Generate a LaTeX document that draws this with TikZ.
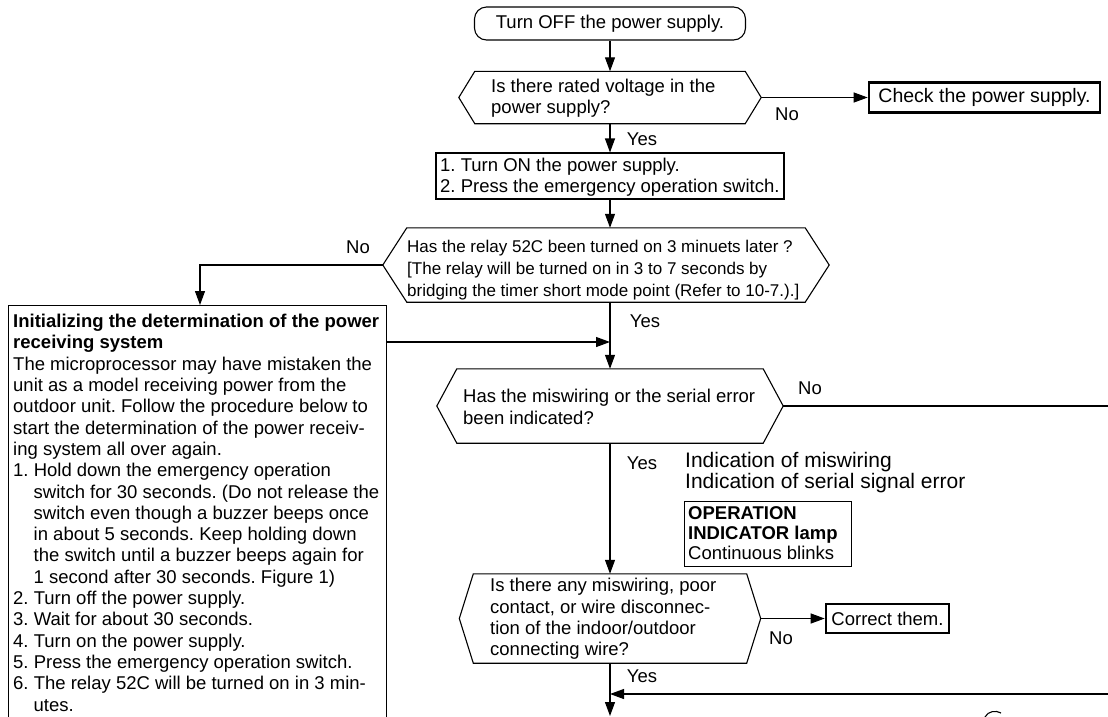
\documentclass[tikz,border=0pt]{standalone}
\usepackage{fontspec}
\setmainfont{Liberation Sans}
\usetikzlibrary{arrows.meta,calc}
\frenchspacing
\newcommand\hexo[2]{\draw[line] (#1.west) -- ([xshift=#2]#1.north west) -- ([xshift=-#2]#1.north east) -- (#1.east) -- ([xshift=-#2]#1.south east) -- ([xshift=#2]#1.south west) -- cycle;}
\newcommand\ind{\hspace*{20.5pt}}
\begin{document}
\begin{tikzpicture}[x=1pt,y=-1pt,
  every node/.style={font=\fontsize{18.5}{21.3}\selectfont, inner sep=0pt},
  line/.style={line width=1.1pt},
  arr/.style={line, -{Triangle[length=14pt,width=10pt]}},
  box/.style={draw, line width=1.1pt},
  thickbox/.style={draw, line width=2.6pt},
  hexframe/.style={draw=none},
  txt/.style={align=left, anchor=west}
]
\useasboundingbox (0,0) rectangle (1108,716);
\clip (0,0) rectangle (1108,716);

% start
\node[box, rounded corners=12pt, minimum width=271pt, minimum height=33pt] (start) at (610,23.5) {Turn OFF the power supply.};

% decision 1
\node[hexframe, minimum width=302pt, minimum height=52pt] (h1) at (610,97.5) {};
\hexo{h1}{16pt}
\node[txt] (h1t) at (491,98) {Is there rated voltage in the\\power supply?};
\node[thickbox, minimum width=231pt, minimum height=30pt, font=\fontsize{19.5}{21}\selectfont] (chk) at (984.5,97.5) {Check the power supply.};
\node (no1) at (787,114) {No};
\node (yes1) at (642,139) {Yes};

% box 2
\node[box, minimum width=348pt, minimum height=46pt] (b2) at (610,176) {};
\node[txt] (b2t) at (440,177) {1. Turn ON the power supply.\\2. Press the emergency operation switch.};

% decision 2
\node[hexframe, minimum width=446pt, minimum height=74pt] (h2) at (606,265) {};
\hexo{h2}{24pt}
\node[txt, font=\fontsize{17}{22}\selectfont] (h2t) at (407,270) {Has the relay 52C been turned on 3 minuets later ?\\{[}The relay will be turned on in 3 to 7 seconds by\\bridging the timer short mode point (Refer to 10-7.).]};
\node (no2) at (358,247) {No};
\node (yes2) at (645,321) {Yes};

% box 3
\node[box, anchor=north west, minimum width=378pt, minimum height=440pt] (b3) at (8,305) {};
\node[align=left, anchor=north west] (b3t) at (13,314) {%
\textbf{Initializing the determination of the power}\\
\textbf{receiving system}\\
The microprocessor may have mistaken the\\
unit as a model receiving power from the\\
outdoor unit. Follow the procedure below to\\
start the determination of the power receiv-\\
ing system all over again.\\
1. Hold down the emergency operation\\
\ind switch for 30 seconds. (Do not release the\\
\ind switch even though a buzzer beeps once\\
\ind in about 5 seconds. Keep holding down\\
\ind the switch until a buzzer beeps again for\\
\ind 1 second after 30 seconds. Figure 1)\\
2. Turn off the power supply.\\
3. Wait for about 30 seconds.\\
4. Turn on the power supply.\\
5. Press the emergency operation switch.\\
6. The relay 52C will be turned on in 3 min-\\
\ind utes.};

% decision 3
\node[hexframe, minimum width=346pt, minimum height=74pt] (h3) at (610,406) {};
\hexo{h3}{20pt}
\node[txt] (h3t) at (463,407) {Has the miswiring or the serial error\\been indicated?};
\node (no3) at (810,388) {No};
\node (yes3) at (642,463) {Yes};
\node[txt, font=\fontsize{21}{21}\selectfont] (ind) at (685,473) {Indication of miswiring\\Indication of serial signal error};
\node[box, anchor=north west, minimum width=167pt, minimum height=65pt] (op) at (684,501) {};
\node[txt, font=\fontsize{18.5}{20}\selectfont] (opt) at (688,533.5) {\textbf{OPERATION}\\\textbf{INDICATOR lamp}\\Continuous blinks};

% decision 4
\node[hexframe, minimum width=301pt, minimum height=89pt] (h4) at (610,618.5) {};
\hexo{h4}{14pt}
\node[txt] (h4t) at (490,619) {Is there any miswiring, poor\\contact, or wire disconnec-\\tion of the indoor/outdoor\\connecting wire?};
\node[thickbox, minimum width=123pt, minimum height=29pt] (cor) at (887.5,618.5) {Correct them.};
\node (no4) at (781,638) {No};
\node (yes4) at (642,676) {Yes};

% connectors
\coordinate (c1) at (200,265);
\coordinate (j1) at (610,342);
\coordinate (r1) at (1108,406);
\coordinate (b1) at (610,716);
\coordinate (r2) at (1108,694);
\coordinate (j2) at (610,694);

\draw[arr] (start.south) -- (h1.north);
\draw[arr] (h1.east) -- (chk.west);
\draw[arr] (h1.south) -- (b2.north);
\draw[arr] (b2.south) -- (b2.south |- h2.north);
\draw[arr] (h2.west) -- (c1) -- (c1 |- b3.north);
\draw[arr] (b2.south |- h2.south) -- (h3.north);
\draw[arr] (b3.east |- j1) -- (j1);
\draw[line] (h3.east) -- (r1);
\draw[arr] (h3.south) -- (h4.north);
\draw[arr] (h4.east) -- (cor.west);
\draw[arr] (h4.south) -- (b1);
\draw[arr] (r2) -- (j2);
\draw[line] (985,717) .. controls (988,711) and (996,710) .. (1001,713);
\end{tikzpicture}
\end{document}
